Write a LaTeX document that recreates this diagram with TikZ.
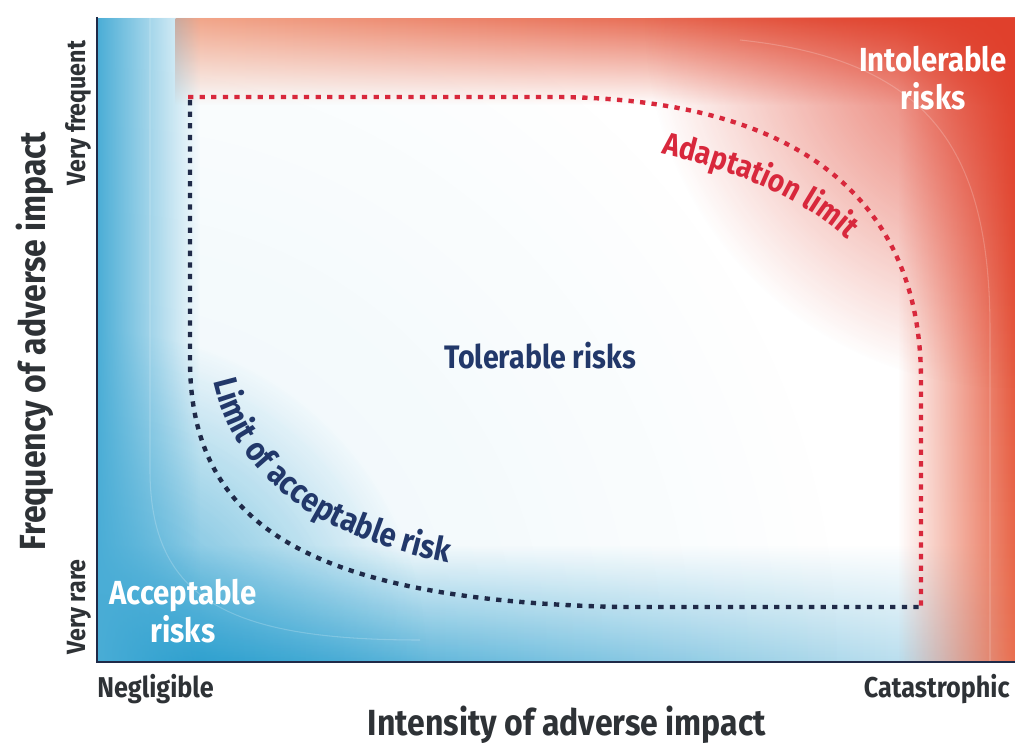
\documentclass[tikz,border=0pt]{standalone}
\usepackage{fontspec}
\setmainfont{Fira Sans}[FakeStretch=0.88]
\usetikzlibrary{fadings,decorations.text}
\definecolor{azul}{HTML}{2A9FCF}
\definecolor{azulclaro}{HTML}{9ED0E6}
\definecolor{rojo}{HTML}{E0402C}
\definecolor{naranja}{HTML}{EA6E4E}
\definecolor{salmon}{HTML}{F2A88C}
\definecolor{marino}{HTML}{1F2A48}
\definecolor{texto}{HTML}{22386A}
\definecolor{carmin}{HTML}{D8283C}
\definecolor{gris}{HTML}{2E3236}
\tikzfading[name=desvanece, inner color=transparent!0, outer color=transparent!100]
\begin{document}
\begin{tikzpicture}[x=0.02cm,y=-0.02cm,
  limite/.style={line width=2.5pt, dash pattern=on 3pt off 3.6pt},
  zona/.style={text=white, font=\bfseries\fontsize{19}{21.5}\selectfont, align=center},
  eje/.style={text=gris, font=\bfseries\fontsize{15}{17}\selectfont, inner sep=0pt},
  titulo/.style={text=gris, font=\bfseries\fontsize{20.7}{24}\selectfont, inner sep=0pt}]
\useasboundingbox (0,0) rectangle (1015,743);
\fill[white] (0,0) rectangle (1015,743);
% fondo degradado
\begin{scope}
  \clip (97,18) rectangle (1015,662);
  \shade[left color=azul, right color=azulclaro!50!white, path fading=north] (97,545) rectangle (1015,662); % banda abajo
  \fill[azul, opacity=0.9, path fading=desvanece] (97,662) circle (330); % esquina azul
  \fill[azul, opacity=0.1, path fading=desvanece] (97,662) circle (750);
  \shade[top color=rojo, bottom color=naranja, path fading=west] (898,18) rectangle (1015,662); % banda derecha
  \shade[left color=salmon, right color=rojo, path fading=south] (176,18) rectangle (1015,105); % banda arriba
  \fill[rojo, opacity=0.9, path fading=desvanece] (1015,18) circle (370); % esquina roja
  \fill[azul!85!white, path fading=east] (97,18) rectangle (200,662); % banda izquierda
\end{scope}
% brillos
\draw[white, opacity=0.2, line width=0.6pt] (740,40) .. controls (930,60) and (990,150) .. (990,330) -- (990,662);
\draw[white, opacity=0.2, line width=0.6pt] (150,18) -- (150,470) .. controls (150,600) and (230,640) .. (420,640);
% limites
\draw[limite, carmin] (188,97) -- (560,97) .. controls (800,100) and (921,200) .. (921,380) -- (921,607);
\draw[limite, marino] (190,100) -- (190,360) .. controls (190,520) and (300,600) .. (620,607) -- (921,607);
\path[decorate, decoration={text along path, text align=center,
  text={|\bfseries\fontsize{18}{20}\selectfont\color{carmin}|Adaptation limit}}]
  (622,146) .. controls (748,168) and (830,210) .. (874,270);
\path[decorate, decoration={text along path, text align=center,
  text={|\bfseries\fontsize{19}{21}\selectfont\color{texto}|Limit of acceptable risk}}]
  (208,336) .. controls (212,474) and (320,548) .. (494,570);
% zonas
\node[zona] (intol) at (933,78) {Intolerable\\risks};
\node[zona] (acep) at (183,611) {Acceptable\\risks};
\node[text=texto, font=\bfseries\fontsize{18.5}{20}\selectfont] (toler) at (540,356) {Tolerable risks};
% ejes
\draw[line width=1.7pt, color=marino] (97,17) -- (97,662) -- (1015,662);
\node[eje, font=\bfseries\fontsize{16.3}{18}\selectfont, anchor=base west] (negl) at (97,697) {Negligible};
\node[eje, font=\bfseries\fontsize{16.3}{18}\selectfont, anchor=base east] (catas) at (1010,697) {Catastrophic};
\node[eje, rotate=90, anchor=base] (vfreq) at (85,113) {Very frequent};
\node[eje, rotate=90, anchor=base] (vrare) at (85,607) {Very rare};
\node[titulo, anchor=base] (intens) at (567,735) {Intensity of adverse impact};
\node[titulo, rotate=90, anchor=base] (frec) at (45,341) {Frequency of adverse impact};
\end{tikzpicture}
\end{document}
